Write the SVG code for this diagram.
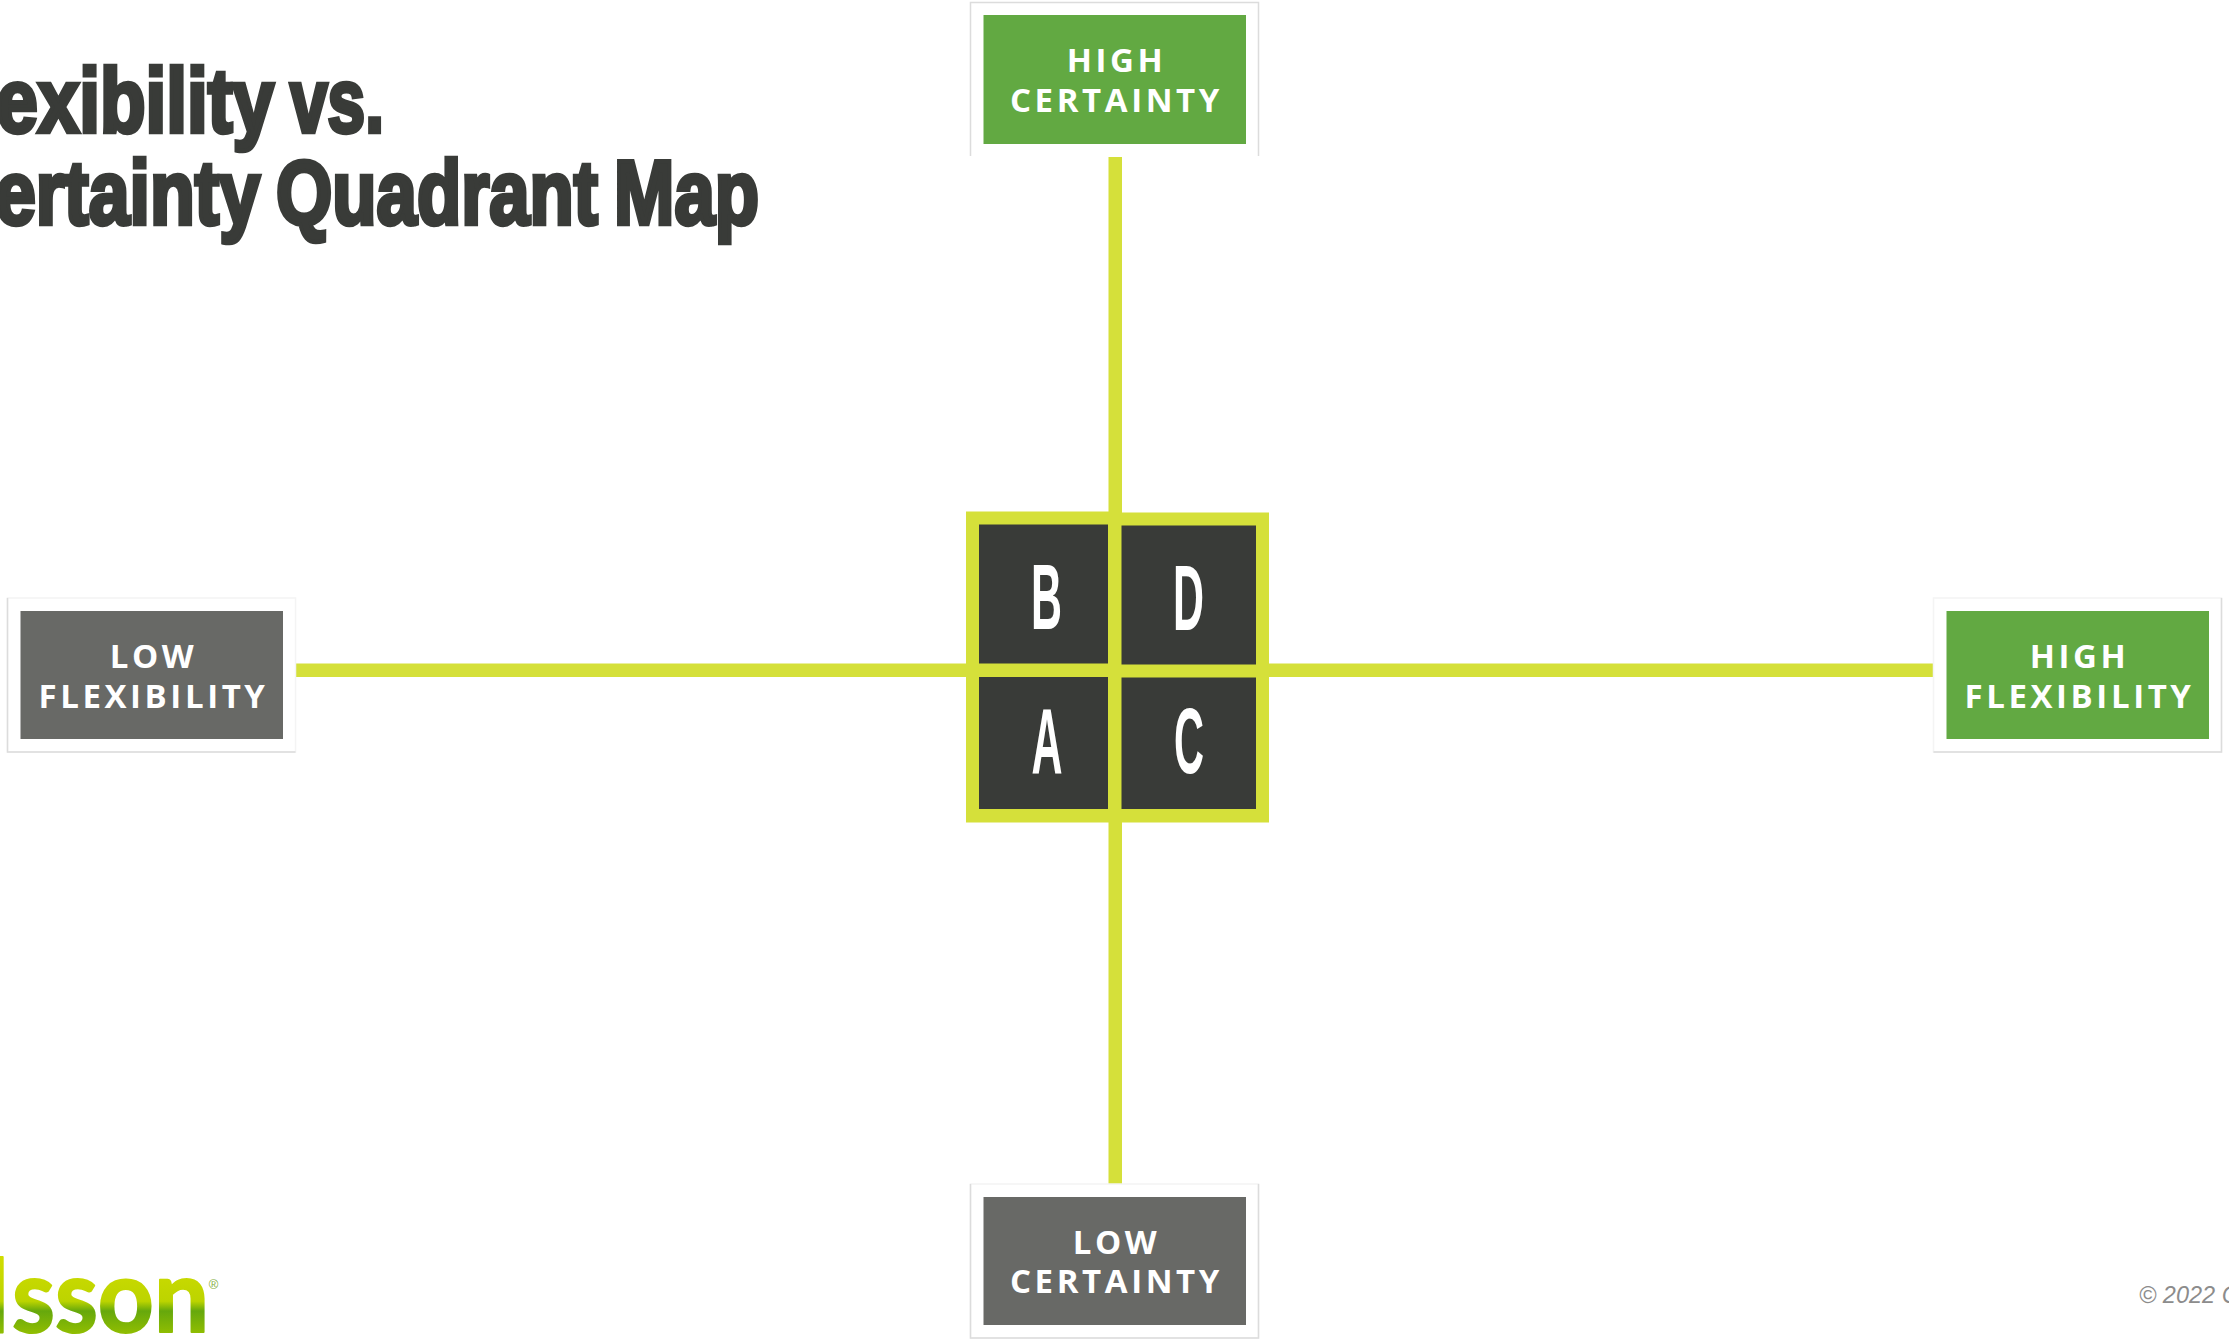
<svg xmlns="http://www.w3.org/2000/svg" width="2229" height="1341" viewBox="0 0 2229 1341">
<defs>
<linearGradient id="logo" gradientUnits="userSpaceOnUse" x1="0" y1="1260" x2="0" y2="1335"><stop offset="0" stop-color="#cfdc00"/><stop offset="0.55" stop-color="#bcd400"/><stop offset="0.68" stop-color="#66a80c"/><stop offset="1" stop-color="#93bf00"/></linearGradient>
</defs>
<style>
.title{font-family:"Liberation Sans",sans-serif;font-weight:700;font-size:90px;fill:#393b38;stroke:#393b38;stroke-width:4.5px}
.lbl{font-family:"Open Sans",sans-serif;font-weight:700;font-size:33px;letter-spacing:3.6px;fill:#fff;text-anchor:middle}
.ltr{font-family:"Liberation Sans",sans-serif;font-weight:700;font-size:92px;fill:#fff}
.frame{fill:#fff;stroke:#f4f4f4;stroke-width:1.5}
.edge{stroke:#dcdcdc;stroke-width:1.5;fill:none}
.lime{fill:#d5e03a}
.cell{fill:#393b38}
.g{fill:#62a942}.d{fill:#686966}
.logo{font-family:Lato,sans-serif;font-weight:700;font-size:102px;fill:url(#logo);stroke:url(#logo);stroke-width:2px;stroke-linejoin:round}
</style>
<rect width="2229" height="1341" fill="#fff"/>
<g id="title">
<text class="title" x="-70" y="131.5" textLength="344" lengthAdjust="spacingAndGlyphs">Flexibility</text>
<text class="title" x="290" y="131.5" textLength="94" lengthAdjust="spacingAndGlyphs">vs.</text>
<text class="title" x="-58" y="223.5" textLength="318" lengthAdjust="spacingAndGlyphs">Certainty</text>
<text class="title" x="276" y="223.5" textLength="322" lengthAdjust="spacingAndGlyphs">Quadrant</text>
<text class="title" x="614" y="223.5" textLength="145" lengthAdjust="spacingAndGlyphs">Map</text>
</g>
<g id="connectors">
<rect class="lime" x="1108.5" y="157" width="13.5" height="356"/>
<rect class="lime" x="1108.5" y="820" width="13.5" height="364"/>
<rect class="lime" x="296" y="663.5" width="671" height="13.5"/>
<rect class="lime" x="1268" y="663.5" width="665" height="13.5"/>
</g>
<g id="quadrant">
<rect class="lime" x="966" y="511.5" width="155" height="311"/>
<rect class="lime" x="1115" y="512.5" width="154" height="310"/>
<rect class="cell" x="979" y="524.5" width="129" height="139"/>
<rect class="cell" x="1121.5" y="525.5" width="134.5" height="139"/>
<rect class="cell" x="979" y="677" width="129" height="132"/>
<rect class="cell" x="1121.5" y="677.5" width="134.5" height="131.5"/>
</g>
<g id="node-b"><text class="ltr" x="1031" y="629" textLength="31" lengthAdjust="spacingAndGlyphs">B</text></g>
<g id="node-d"><text class="ltr" x="1173" y="630" textLength="31" lengthAdjust="spacingAndGlyphs">D</text></g>
<g id="node-a"><text class="ltr" x="1031.5" y="773" textLength="31" lengthAdjust="spacingAndGlyphs">A</text></g>
<g id="node-c"><text class="ltr" x="1174" y="773" textLength="30" lengthAdjust="spacingAndGlyphs">C</text></g>
<g id="high-certainty">
<rect x="970.5" y="2.5" width="288" height="154" fill="#fff"/>
<path class="edge" d="M970.5 156V2.500H1258.500V156"/>
<rect class="g" x="983.5" y="15" width="262.5" height="129"/>
<text class="lbl" x="1116.500" y="71.500">HIGH</text><text class="lbl" x="1116.500" y="112">CERTAINTY</text>
</g>
<g id="low-flexibility">
<rect class="frame" x="7.5" y="598" width="288" height="154"/>
<path class="edge" d="M7.500 598V752H295.500"/>
<rect class="d" x="20.5" y="611" width="262.5" height="128"/>
<text class="lbl" x="153.500" y="668">LOW</text><text class="lbl" x="153.500" y="708">FLEXIBILITY</text>
</g>
<g id="high-flexibility">
<rect class="frame" x="1933.5" y="598" width="288" height="154"/>
<path class="edge" d="M2221.500 598V752H1933.500"/>
<rect class="g" x="1946.5" y="611" width="262.5" height="128"/>
<text class="lbl" x="2079.500" y="668">HIGH</text><text class="lbl" x="2079.500" y="708">FLEXIBILITY</text>
</g>
<g id="low-certainty">
<rect class="frame" x="970.5" y="1184" width="288" height="154"/>
<path class="edge" d="M970.500 1184V1338H1258.500V1184"/>
<rect class="d" x="983.5" y="1197" width="262.5" height="128"/>
<text class="lbl" x="1116.500" y="1253.500">LOW</text><text class="lbl" x="1116.500" y="1293">CERTAINTY</text>
</g>
<g id="logo-mark">
<text class="logo" x="9" y="1332" text-anchor="end">d</text>
<text class="logo" x="12" y="1332" textLength="197" lengthAdjust="spacingAndGlyphs">sson</text>
<text x="213.500" y="1288.500" text-anchor="middle" font-family="Liberation Sans,sans-serif" font-size="13" fill="#7fae3a">®</text>
</g>
<text id="copyright" x="2139" y="1303" font-family="Liberation Sans,sans-serif" font-style="italic" font-size="23.500" fill="#8c8c8c">© 2022 C</text>
</svg>
